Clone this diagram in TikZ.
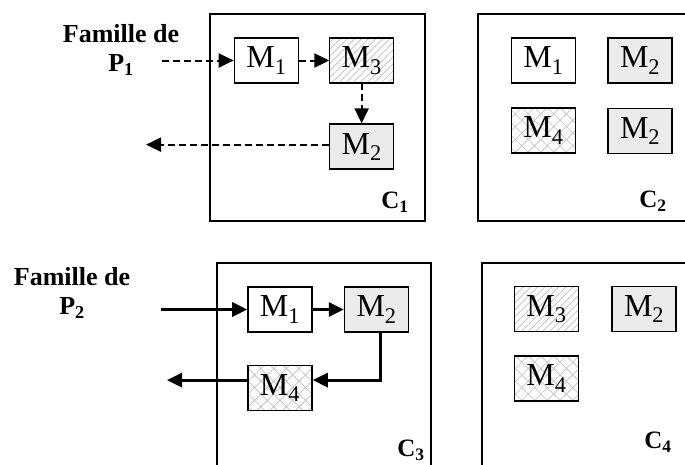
\documentclass[tikz,border=0pt]{standalone}
\usepackage{fontspec}
\setmainfont{Liberation Serif}
\usetikzlibrary{positioning,arrows.meta,patterns.meta}

\begin{document}
\begin{tikzpicture}[
  x=1pt, y=-1pt, >={Triangle[length=15pt,width=14pt]},
  node distance=30pt and 30pt,
  cell/.style={rectangle, draw=black, line width=1.7pt, inner sep=0pt},
  mach/.style={rectangle, draw=black, line width=1.6pt, minimum width=64pt,
               minimum height=45pt, inner sep=0pt,
               font=\fontsize{32}{36}\selectfont},
  grise/.style={mach, fill=gray!16},
  rayee/.style={mach, pattern={Lines[angle=45,distance=5pt,line width=0.7pt]},
                pattern color=gray!50},
  croisee/.style={mach, pattern={Hatch[angle=45,distance=9pt,line width=0.6pt]},
                  pattern color=gray!50},
  fam/.style={align=center, font=\fontsize{26}{29}\bfseries\selectfont},
  lab/.style={font=\fontsize{25}{28}\bfseries\selectfont},
  flux/.style={->, line width=2pt, dash pattern=on 7pt off 4pt},
  flot/.style={->, line width=3pt}
]
\clip (0,0) rectangle (685,464);

% cellules
\node[cell, minimum width=215pt, minimum height=207pt] (c1) at (317.5,117.5) {};
\node[cell, minimum width=224pt, minimum height=207pt] (c2) at (590,117.5) {};
\node[cell, minimum width=214pt, minimum height=212pt] (c3) at (324,369) {};
\node[cell, minimum width=222pt, minimum height=212pt] (c4) at (593,369) {};

% familles
\node[fam] (fam1) at (121,50) {Famille de\\P\textsubscript{1}};
\node[fam] (fam2) at (72,293) {Famille de\\P\textsubscript{2}};

% C1
\node[mach] (c1m1) at (266.5,60.5) {M\textsubscript{1}};
\node[rayee, right=30pt of c1m1] (c1m3) {M\textsubscript{3}};
\node[grise, below=40pt of c1m3] (c1m2) {M\textsubscript{2}};
\node[lab] (lc1) at (395,202) {C\textsubscript{1}};

% C2
\node[mach] (c2m1) at (543.5,60.5) {M\textsubscript{1}};
\node[grise, right=31pt of c2m1] (c2m2) {M\textsubscript{2}};
\node[croisee, below=24pt of c2m1] (c2m4) {M\textsubscript{4}};
\node[grise, below=24pt of c2m2] (c2m2b) {M\textsubscript{2}};
\node[lab] (lc2) at (653,201) {C\textsubscript{2}};

% C3
\node[mach] (c3m1) at (280,309.5) {M\textsubscript{1}};
\node[grise, right=31pt of c3m1] (c3m2) {M\textsubscript{2}};
\node[croisee, below=32pt of c3m1] (c3m4) {M\textsubscript{4}};
\node[lab] (lc3) at (411,450) {C\textsubscript{3}};

% C4
\node[rayee] (c4m3) at (546.5,309) {M\textsubscript{3}};
\node[grise, right=32pt of c4m3] (c4m2) {M\textsubscript{2}};
\node[croisee, below=23pt of c4m3] (c4m4) {M\textsubscript{4}};
\node[lab] (lc4) at (658,442) {C\textsubscript{4}};

% bouts libres des fleches
\coordinate (in1) at (162,0);
\coordinate (out1) at (146,0);
\coordinate (in2) at (161,0);
\coordinate (out2) at (167,0);

% P1 : pointilles
\draw[flux] (c1m1.west -| in1) -- (c1m1.west);
\draw[flux] (c1m1) -- (c1m3);
\draw[flux] (c1m3) -- (c1m2);
\draw[flux] ([yshift=2pt]c1m2.west) -- ([yshift=2pt]c1m2.west -| out1);

% P2 : traits pleins
\draw[flot] (c3m1.west -| in2) -- (c3m1.west);
\draw[flot] (c3m1) -- (c3m2);
\draw[flot] ([xshift=3.5pt]c3m2.south) |- ([yshift=8pt]c3m4.east);
\draw[flot] ([yshift=8pt]c3m4.west) -- ([yshift=8pt]c3m4.west -| out2);

\end{tikzpicture}
\end{document}
